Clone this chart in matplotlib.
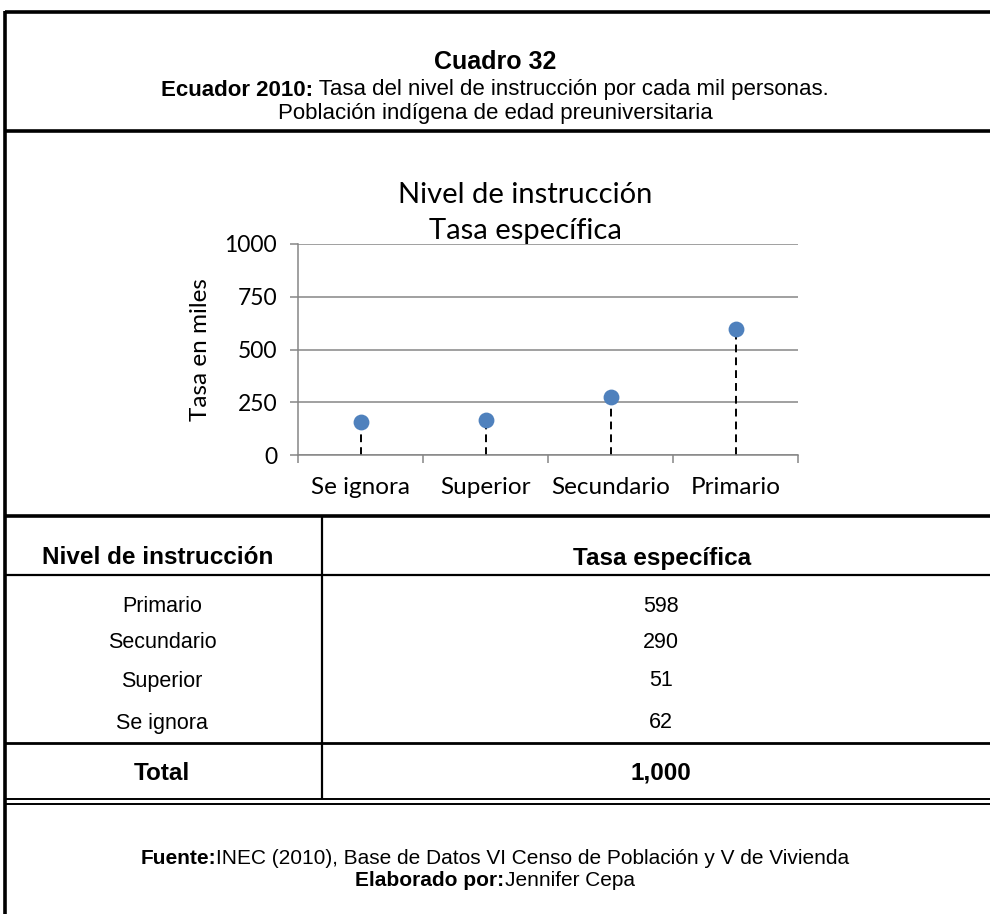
import matplotlib
matplotlib.use("Agg")
import matplotlib.pyplot as plt
from matplotlib.lines import Line2D

# Chart data (points as plotted)
categories = ["Se ignora", "Superior", "Secundario", "Primario"]
chart_values = [157, 166, 274, 598]
y_ticks = [0, 250, 500, 750, 1000]

# Table data
table_levels = ["Primario", "Secundario", "Superior", "Se ignora"]
table_rates = ["598", "290", "51", "62"]
table_total = "1,000"

W, H = 990, 914
fig = plt.figure(figsize=(W / 100, H / 100), dpi=100)


def fx(x):
    return x / W


def fy(y):
    return 1 - y / H


def hline(y, x0=5, x1=990, lw=2.0):
    fig.add_artist(Line2D([fx(x0), fx(x1)], [fy(y), fy(y)], color="black", lw=lw,
                          solid_capstyle="butt"))


def vline(x, y0, y1, lw=2.0):
    fig.add_artist(Line2D([fx(x), fx(x)], [fy(y0), fy(y1)], color="black", lw=lw,
                          solid_capstyle="butt"))


renderer = fig.canvas.get_renderer()


def mixed_text(y, parts, size=12.5, cx=495):
    # parts: list of (text, weight); drawn side by side and centred on cx
    arts = []
    for s, w in parts:
        t = fig.text(0, fy(y), s, fontsize=size, fontweight=w, family="Liberation Sans",
                     ha="left", va="center")
        arts.append(t)
    widths = [a.get_window_extent(renderer).width for a in arts]
    x = cx - sum(widths) / 2
    for a, w in zip(arts, widths):
        a.set_x(fx(x))
        x += w


# Frame lines
hline(12, lw=2.6)
vline(5, 11, 914, lw=2.6)
hline(131, lw=2.6)
hline(516, lw=2.6)
hline(575, x0=5, lw=1.6)
hline(743, lw=2.0)
hline(799, lw=1.4)
hline(804, lw=1.4)
vline(322, 516, 799, lw=1.6)

# Header
mixed_text(62, [("Cuadro 32", "bold")], size=18)
mixed_text(90, [("Ecuador 2010:", "bold"),
                (" Tasa del nivel de instrucción por cada mil personas.", "normal")], size=16)
mixed_text(113, [("Población indígena de edad preuniversitaria", "normal")], size=16)

# Chart
grey = "#868686"
ax = fig.add_axes([fx(298), fy(455), (798 - 298) / W, (455 - 244) / H])
xpos = [i + 0.5 for i in range(len(categories))]
ax.vlines(xpos, 0, chart_values, colors="black", linestyles=(0, (4, 2.6)), lw=1.4, zorder=2)
ax.scatter(xpos, chart_values, s=130, color="#4F81BD", zorder=3, linewidths=0)
ax.set_xlim(0, len(categories))
ax.set_ylim(0, 1000)
ax.set_yticks(y_ticks)
ax.set_xticks(range(len(categories) + 1))
ax.set_xticklabels([])
ax.set_xticks(xpos, minor=True)
ax.set_xticklabels(categories, minor=True)
ax.tick_params(axis="x", which="major", length=6, width=1.1, color=grey, direction="out")
ax.tick_params(axis="x", which="minor", length=0, pad=16, labelsize=17.5)
ax.tick_params(axis="y", length=6, width=1.1, color=grey, labelsize=16.5, pad=9)
for lab in ax.get_xticklabels(minor=True) + ax.get_yticklabels():
    lab.set_family("Lato")
ax.grid(axis="y", color=grey, lw=1.1, zorder=0)
for side in ["top", "right"]:
    ax.spines[side].set_visible(False)
for side in ["left", "bottom"]:
    ax.spines[side].set_color(grey)
    ax.spines[side].set_linewidth(1.1)
ax.set_axisbelow(True)
ax.set_ylabel("Tasa en miles", family="Lato", fontsize=17.5, labelpad=10)

fig.text(fx(525), fy(195), "Nivel de instrucción", family="Lato", fontsize=21,
         ha="center", va="center")
fig.text(fx(525), fy(231), "Tasa específica", family="Lato", fontsize=21,
         ha="center", va="center")

# Table
tkw = dict(family="Liberation Sans", ha="center", va="center")
fig.text(fx(158), fy(558), "Nivel de instrucción", fontsize=17.5, fontweight="bold", **tkw)
fig.text(fx(662), fy(558), "Tasa específica", fontsize=17.5, fontweight="bold", **tkw)
row_y = [606, 643, 681, 723]
for y, lvl, rate in zip(row_y, table_levels, table_rates):
    fig.text(fx(162), fy(y), lvl, fontsize=15.5, **tkw)
    fig.text(fx(661), fy(y), rate, fontsize=15.5, **tkw)
fig.text(fx(162), fy(773), "Total", fontsize=17.5, fontweight="bold", **tkw)
fig.text(fx(661), fy(773), table_total, fontsize=17.5, fontweight="bold", **tkw)

# Footer
mixed_text(858, [("Fuente:", "bold"),
                 ("INEC (2010), Base de Datos VI Censo de Población y V de Vivienda", "normal")],
           size=15)
mixed_text(881, [("Elaborado por:", "bold"), ("Jennifer Cepa", "normal")], size=15)

fig.savefig("out.png", dpi=100, facecolor="white")
